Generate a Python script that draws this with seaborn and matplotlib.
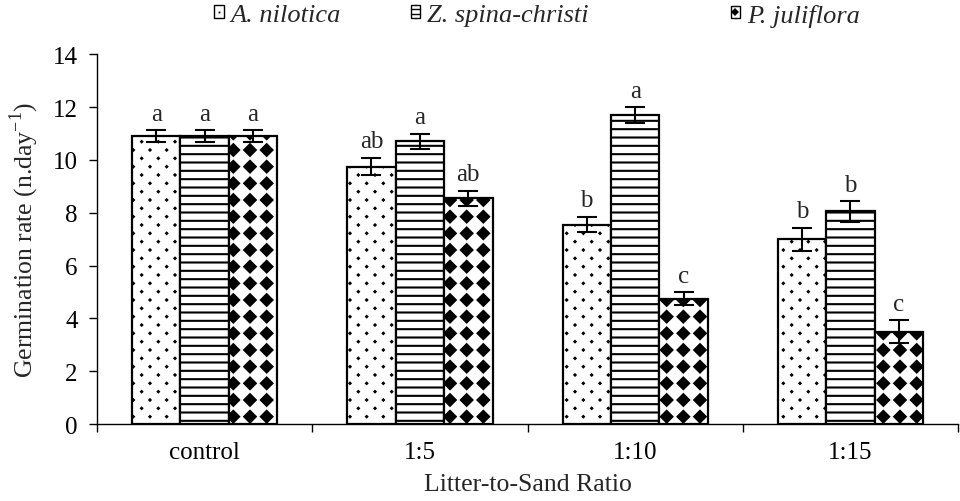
import numpy as np
import pandas as pd
import seaborn as sns
import matplotlib.pyplot as plt
import matplotlib.patches as mpatches
from matplotlib.lines import Line2D
from matplotlib.legend_handler import HandlerBase
from matplotlib import hatch as mhatch
from matplotlib.path import Path

categories = ['control', '1:5', '1:10', '1:15']
species = ['A. nilotica', 'Z. spina-christi', 'P. juliflora']

a_nilotica = [10.9, 9.75, 7.55, 7.0]
z_spina = [10.9, 10.7, 11.7, 8.05]
p_juliflora = [10.9, 8.55, 4.75, 3.5]

a_err = [0.22, 0.33, 0.29, 0.43]
z_err = [0.22, 0.30, 0.30, 0.39]
p_err = [0.22, 0.29, 0.25, 0.43]

a_letters = ['a', 'ab', 'b', 'b']
z_letters = ['a', 'a', 'a', 'b']
p_letters = ['a', 'ab', 'c', 'c']

hatches = ['o', '--', 'O']


# custom hatches: small dots on a staggered grid, black diamonds on a square grid
class Lattice(mhatch.HatchPatternBase):
    char = 'O'
    half = 0.058
    staggered = False

    def __init__(self, hatch, density):
        n = 6 * hatch.count(self.char)
        pts = np.empty((0, 2))
        if n:
            g = np.arange(n + 1) / n
            xx, yy = np.meshgrid(g, g)
            pts = np.column_stack([xx.ravel(), yy.ravel()])
            if self.staggered:
                h = (np.arange(n) + 0.5) / n
                xx, yy = np.meshgrid(h, h)
                pts = np.vstack([pts, np.column_stack([xx.ravel(), yy.ravel()])])
        self.centers = pts
        self.num_vertices = len(pts) * 5

    def set_vertices_and_codes(self, vertices, codes):
        d = self.half
        shape = np.array([[0, d], [d, 0], [0, -d], [-d, 0], [0, d]])
        vertices[:] = (self.centers[:, None, :] + shape[None]).reshape(-1, 2)
        c = [Path.MOVETO, Path.LINETO, Path.LINETO, Path.LINETO, Path.CLOSEPOLY]
        codes[:] = np.tile(c, len(self.centers))


class Dots(Lattice):
    char = 'o'
    half = 0.006
    staggered = True


types = mhatch._hatch_types
types[types.index(mhatch.SmallCircles)] = Dots
types[types.index(mhatch.LargeCircles)] = Lattice


# small legend swatch: box with one dot / two lines / one diamond inside
class Swatch(HandlerBase):
    def __init__(self, kind):
        super().__init__()
        self.kind = kind

    def create_artists(self, legend, orig_handle, xdescent, ydescent,
                       width, height, fontsize, trans):
        x0, y0 = -xdescent, -ydescent
        box = mpatches.Rectangle((x0, y0), width, height, facecolor='white',
                                 edgecolor='black', linewidth=1, transform=trans)
        cx, cy = x0 + width / 2, y0 + height / 2
        arts = [box]
        if self.kind == 'o':
            arts.append(Line2D([cx], [cy], marker='s', ms=1.3, color='black',
                               mew=0, transform=trans))
        elif self.kind == '--':
            for f in (1 / 3, 2 / 3):
                arts.append(Line2D([x0, x0 + width], [y0 + f * height] * 2,
                                   color='black', lw=1, transform=trans))
        else:
            arts.append(Line2D([cx], [cy], marker='D', ms=4.5, color='black',
                               mew=0, transform=trans))
        return arts


df = pd.DataFrame({
    'ratio': categories * 3,
    'species': np.repeat(species, len(categories)),
    'rate': a_nilotica + z_spina + p_juliflora,
    'err': a_err + z_err + p_err,
    'letter': a_letters + z_letters + p_letters,
})

sns.set_theme(style='ticks')
plt.rcParams['font.family'] = ['Liberation Serif', 'DejaVu Serif']
plt.rcParams['mathtext.fontset'] = 'custom'
plt.rcParams['mathtext.rm'] = 'Liberation Serif'
plt.rcParams['hatch.linewidth'] = 1.5
plt.rcParams['axes.edgecolor'] = 'black'
plt.rcParams['xtick.color'] = 'black'
plt.rcParams['ytick.color'] = 'black'

fig, ax = plt.subplots(figsize=(9.6, 5.02), dpi=100)
fig.subplots_adjust(left=0.101, right=0.998, bottom=0.153, top=0.890)

sns.barplot(data=df, x='ratio', y='rate', hue='species', order=categories,
            hue_order=species, width=0.675, errorbar=None, ax=ax,
            palette=['white'] * 3, saturation=1, edgecolor='black',
            linewidth=1.6, legend=False)

for i, (cont, h) in enumerate(zip(ax.containers, hatches)):
    sub = df[df['species'] == species[i]].set_index('ratio').loc[categories]
    for bar, err, let in zip(cont, sub['err'], sub['letter']):
        bar.set_hatch(h)
        x = bar.get_x() + bar.get_width() / 2
        y = bar.get_height()
        ax.errorbar(x, y, yerr=err, fmt='none', ecolor='black',
                    elinewidth=1.5, capsize=7, capthick=1.5, zorder=4)
        ax.annotate(let, (x, y + err), xytext=(0, 4), textcoords='offset points',
                    ha='center', va='bottom', fontsize=18)

ax.set_xlim(-0.5, 3.5)
ax.set_ylim(0, 14)
ax.set_yticks(range(0, 15, 2))
ax.set_xticks(np.arange(-0.5, 4, 1), minor=True)
ax.tick_params(axis='x', which='major', length=0, pad=12, labelsize=18)
ax.tick_params(axis='x', which='minor', length=6, width=1)
ax.tick_params(axis='y', length=6, width=1, pad=8, labelsize=18)
for s in ['left', 'bottom']:
    ax.spines[s].set_linewidth(1)
sns.despine(ax=ax)

ax.set_xlabel('Litter-to-Sand Ratio', fontsize=18.5, labelpad=7)
ax.set_ylabel('Germination rate (n.day$^{\\mathregular{-1}}$)', fontsize=18.5, labelpad=8)

leg_x = [0.223, 0.428, 0.761]
for name, h, lx in zip(species, hatches, leg_x):
    handle = mpatches.Patch(facecolor='white', edgecolor='black')
    fig.legend([handle], [name], loc='center left', bbox_to_anchor=(lx, 0.968),
               frameon=False, borderpad=0, borderaxespad=0, handlelength=0.36,
               handleheight=0.36, handletextpad=0.25, handler_map={mpatches.Patch: Swatch(h)},
               prop={'family': 'Liberation Serif', 'style': 'italic', 'size': 19})

fig.savefig('out.png', dpi=100)
